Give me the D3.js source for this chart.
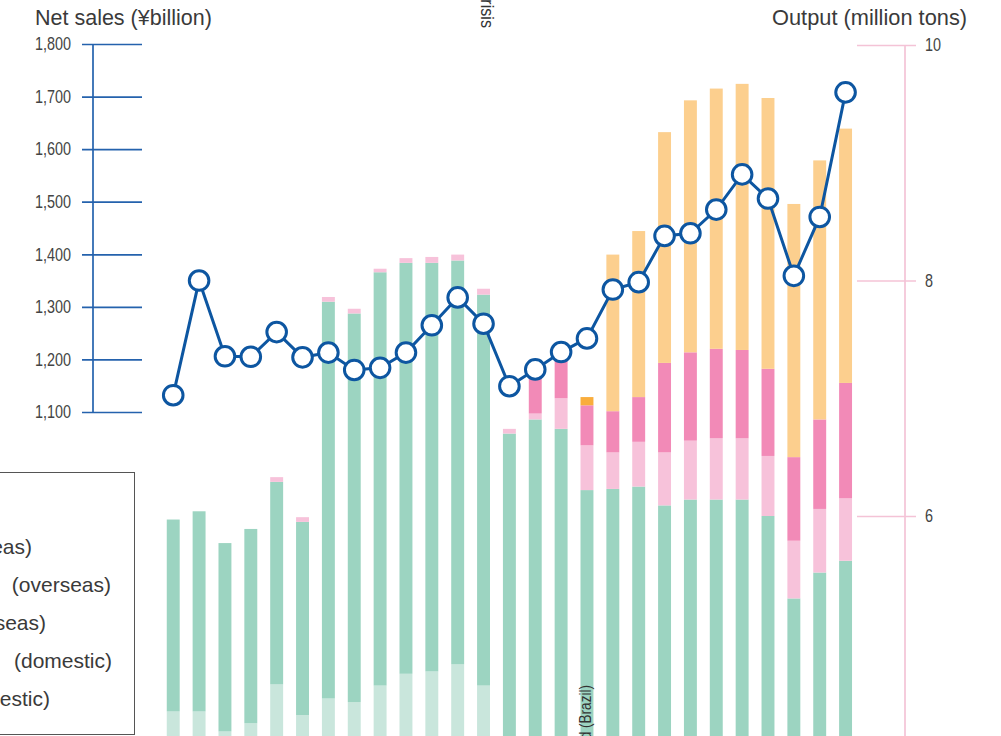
<!DOCTYPE html>
<html>
<head>
<meta charset="utf-8">
<script src="https://cdn.jsdelivr.net/npm/d3@7"></script>
<style>
  body { margin: 0; background: #fff; }
  svg { display: block; overflow: hidden; }
</style>
</head>
<body>
<figure id="chart" style="margin:0"></figure>
<script>
// fiscal years (x labels sit below the visible area)
const years = ['1996', '1997', '1998', '1999', '2000', '2001', '2002', '2003', '2004',
  '2005', '2006', '2007', '2008', '2009', '2010', '2011', '2012', '2013', '2014',
  '2015', '2016', '2017', '2018', '2019', '2020', '2021', '2022'];

// net sales, ¥billion (left axis)
const netSales = [1132, 1350, 1206, 1205, 1252, 1204, 1213, 1180, 1184, 1213, 1265, 1318, 1268,
  1149, 1181, 1214, 1240, 1333, 1347, 1435, 1440, 1485, 1552, 1506, 1359, 1471, 1708];

// output, million tons (right axis), stacked bottom to top
const paperDomestic = [4.34, 4.34, 4.17, 4.24, 4.57, 4.31, 4.45, 4.42, 4.56, 4.66, 4.68, 4.74, 4.56,
  0, 0, 0, 0, 0, 0, 0, 0, 0, 0, 0, 0, 0, 0];
const paperboardDomestic = [1.63, 1.70, 1.60, 1.65, 1.72, 1.64, 3.37, 3.30, 3.51, 3.49, 3.47, 3.43, 3.32,
  6.70, 6.82, 6.74, 6.22, 6.23, 6.25, 6.09, 6.14, 6.14, 6.14, 6.00, 5.30, 5.52, 5.62];
const paperOverseas = [0, 0, 0, 0, 0.04, 0.04, 0.04, 0.04, 0.03, 0.04, 0.05, 0.05, 0.05,
  0.04, 0.05, 0.26, 0.38, 0.31, 0.38, 0.45, 0.50, 0.52, 0.52, 0.51, 0.49, 0.54, 0.53];
const paperboardOverseas = [0, 0, 0, 0, 0, 0, 0, 0, 0, 0, 0, 0, 0,
  0, 0.36, 0.33, 0.34, 0.35, 0.38, 0.76, 0.75, 0.76, 0.75, 0.74, 0.71, 0.76, 0.98];
const pulpOverseasOld = [0, 0, 0, 0, 0, 0, 0, 0, 0, 0, 0, 0, 0,
  0, 0, 0, 0.07, 0, 0, 0, 0, 0, 0, 0, 0, 0, 0];
const pulpOverseas = [0, 0, 0, 0, 0, 0, 0, 0, 0, 0, 0, 0, 0,
  0, 0, 0, 0, 1.33, 1.41, 1.96, 2.14, 2.21, 2.26, 2.30, 2.15, 2.20, 2.16];

const salesTicks = [1100, 1200, 1300, 1400, 1500, 1600, 1700, 1800];
const outputTicks = [6, 8, 10];

const seriesKeys = ['paperDomestic', 'paperboardDomestic', 'paperOverseas',
  'paperboardOverseas', 'pulpOverseasOld', 'pulpOverseas'];
const seriesColors = ['#c9e6dc', '#9cd4c1', '#f7c2da', '#f28ab7', '#f9ad3c', '#fccf8e'];
// legend rows, top to bottom: name and qualifier
const legendNames = ['Pulp', 'Pulp', 'Paperboard', 'Paper', 'Paperboard', 'Paper'];
const legendQualifiers = ['', ' (overseas)', ' (overseas)', ' (overseas)', ' (domestic)', ' (domestic)'];

const width = 1001;
const height = 736;
const blue = '#0d56a1';
const axisBlue = '#2462ad';
const pink = '#f4c3d6';
const textFont = '"Liberation Sans", Arial, sans-serif';
const squeeze = 0.8; // narrow look of the original tick labels

const rows = years.map((y, i) => ({
  year: y,
  paperDomestic: paperDomestic[i],
  paperboardDomestic: paperboardDomestic[i],
  paperOverseas: paperOverseas[i],
  paperboardOverseas: paperboardOverseas[i],
  pulpOverseasOld: pulpOverseasOld[i],
  pulpOverseas: pulpOverseas[i],
  sales: netSales[i]
}));

const svg = d3.select('figure#chart')
  .append('svg')
  .attr('width', width)
  .attr('height', height);

const x = d3.scaleBand()
  .domain(years)
  .range([160.3, 858.5])
  .paddingInner(0.5)
  .paddingOuter(0.25);

const ySales = d3.scaleLinear()
  .domain([1100, 1800])
  .range([412, 44]);

const yOut = d3.scaleLinear()
  .domain([0, 10])
  .range([1222.5, 45]);

// stacked output bars
const stacked = d3.stack().keys(seriesKeys)(rows);
svg.append('g')
  .selectAll('g')
  .data(stacked)
  .enter()
  .append('g')
  .attr('fill', (d, i) => seriesColors[i])
  .selectAll('rect')
  .data(d => d)
  .enter()
  .append('rect')
  .attr('x', d => x(d.data.year))
  .attr('y', d => yOut(d[1]))
  .attr('width', x.bandwidth())
  .attr('height', d => Math.max(0, yOut(d[0]) - yOut(d[1])));

// left axis (net sales)
const leftAxis = svg.append('g')
  .attr('transform', 'translate(142,0)')
  .call(d3.axisLeft(ySales).tickValues(salesTicks).tickSize(60).tickPadding(11).tickFormat(d3.format(',')));
leftAxis.select('.domain').remove();
leftAxis.selectAll('line').attr('stroke', axisBlue).attr('stroke-width', 1.7);
leftAxis.selectAll('text')
  .attr('x', 0)
  .attr('transform', 'translate(-71,0) scale(' + squeeze + ',1)')
  .attr('fill', '#444')
  .style('font-family', textFont)
  .style('font-size', '18px');
svg.append('line')
  .attr('x1', 93).attr('x2', 93)
  .attr('y1', ySales(1800)).attr('y2', ySales(1100))
  .attr('stroke', axisBlue)
  .attr('stroke-width', 1.7);

// right axis (output)
const rightAxis = svg.append('g')
  .attr('transform', 'translate(857,0)')
  .call(d3.axisRight(yOut).tickValues(outputTicks).tickSize(59).tickPadding(9));
rightAxis.select('.domain').remove();
rightAxis.selectAll('line').attr('stroke', pink).attr('stroke-width', 1.7);
rightAxis.selectAll('text')
  .attr('x', 0)
  .attr('transform', 'translate(68,0) scale(' + squeeze + ',1)')
  .attr('fill', '#444')
  .style('font-family', textFont)
  .style('font-size', '18px');
svg.append('line')
  .attr('x1', 905).attr('x2', 905)
  .attr('y1', yOut(10)).attr('y2', yOut(0))
  .attr('stroke', pink)
  .attr('stroke-width', 1.7);

// axis titles
svg.append('text')
  .attr('x', 35).attr('y', 25)
  .attr('fill', '#3a3a3a')
  .style('font-family', textFont)
  .style('font-size', '21.5px')
  .text('Net sales (¥billion)');
svg.append('text')
  .attr('x', 772).attr('y', 25)
  .attr('fill', '#3a3a3a')
  .style('font-family', textFont)
  .style('font-size', '21.8px')
  .text('Output (million tons)');

// event notes, rotated
svg.append('text')
  .attr('transform', 'translate(481,28) rotate(90) scale(0.85,1)')
  .attr('text-anchor', 'end')
  .attr('fill', '#333')
  .style('font-family', textFont)
  .style('font-size', '19px')
  .text('Global financial crisis');
svg.append('text')
  .attr('transform', 'translate(591,685) rotate(-90) scale(' + squeeze + ',1)')
  .attr('text-anchor', 'end')
  .attr('fill', '#333')
  .style('font-family', textFont)
  .style('font-size', '17px')
  .text('CENIBRA consolidated (Brazil)');

// net sales line
const cx = d => x(d.year) + x.bandwidth() / 2;
svg.append('path')
  .datum(rows)
  .attr('fill', 'none')
  .attr('stroke', blue)
  .attr('stroke-width', 3)
  .attr('d', d3.line().x(cx).y(d => ySales(d.sales)));
svg.selectAll('circle.pt')
  .data(rows)
  .enter()
  .append('circle')
  .attr('class', 'pt')
  .attr('cx', cx)
  .attr('cy', d => ySales(d.sales))
  .attr('r', 9.8)
  .attr('fill', '#fff')
  .attr('stroke', blue)
  .attr('stroke-width', 3);

// legend (box runs off the left edge)
const legend = svg.append('g');
legend.append('rect')
  .attr('x', -300.5).attr('y', 472.5)
  .attr('width', 435).attr('height', 262)
  .attr('fill', '#fff')
  .attr('stroke', '#555')
  .attr('stroke-width', 1);
const legendEnds = [-8, 32, 111, 46, 112, 50];
const legendRows = legend.selectAll('g.item')
  .data(legendNames)
  .enter()
  .append('g')
  .attr('class', 'item')
  .attr('transform', (d, i) => 'translate(0,' + (515.5 + i * 38) + ')');
legendRows.append('rect')
  .attr('x', -290).attr('y', -15)
  .attr('width', 18).attr('height', 18)
  .attr('fill', (d, i) => seriesColors[seriesColors.length - 1 - i]);
const legendText = legendRows.append('text')
  .attr('text-anchor', 'end')
  .attr('fill', '#3a3a3a')
  .style('font-family', textFont)
  .style('font-size', '21px');
legendText.append('tspan')
  .attr('x', (d, i) => Math.min(legendEnds[i] - 106, -4))
  .text(d => d);
legendText.append('tspan')
  .attr('x', (d, i) => legendEnds[i])
  .text((d, i) => legendQualifiers[i]);
</script>
</body>
</html>
